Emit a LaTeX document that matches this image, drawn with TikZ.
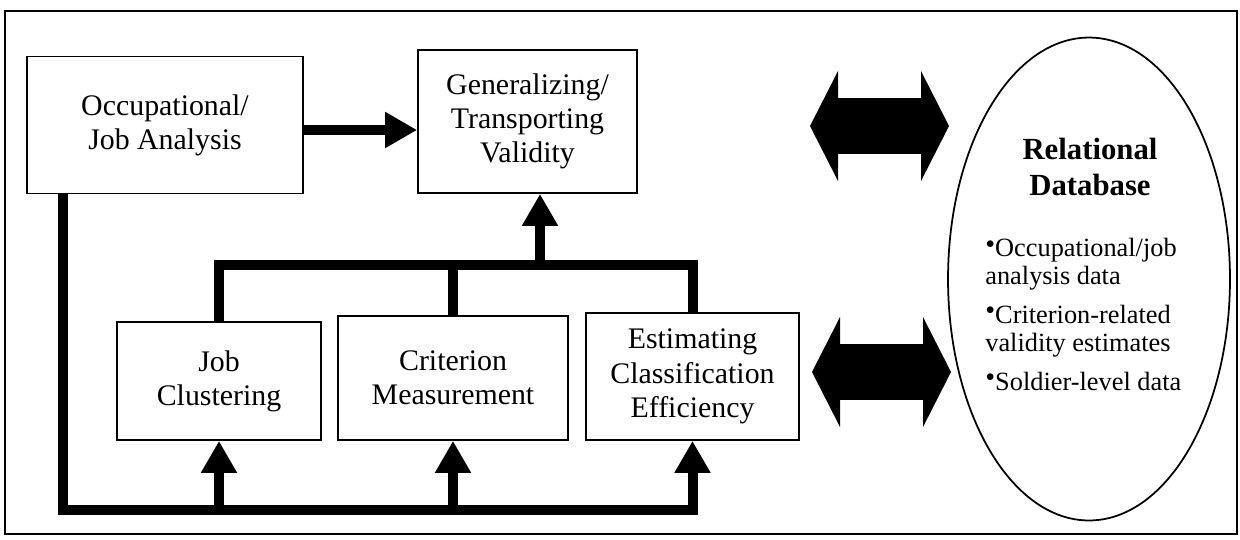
\documentclass[tikz,border=0pt]{standalone}
\usepackage{fontspec}
\setmainfont{Liberation Serif}
\usetikzlibrary{arrows.meta,shapes.geometric}
\newcommand{\dbbullet}{\raisebox{0.3ex}{\fontsize{16}{16}\selectfont •}}

\begin{document}
\begin{tikzpicture}[x=0.02cm, y=-0.02cm,
        box/.style={draw, line width=1pt, align=center, inner sep=2pt,
            font=\fontsize{17}{19.5}\selectfont},
        bar/.style={line width=0.2cm, line join=miter},
        flow/.style={bar, -{Triangle[width=0.68cm,length=0.64cm]}},
        twoway/.style={line width=1.12cm,
            {Triangle[width=2.18cm,length=0.56cm]}-{Triangle[width=2.18cm,length=0.56cm]}}]
    \useasboundingbox (0,0) rectangle (1240,539);
    \draw[line width=1pt] (5,11) rectangle (1237,534);

    \node[box, minimum width=5.52cm, minimum height=2.74cm] at (165,125)   (occ)  {Occupational/\\Job Analysis};
    \node[box, minimum width=4.38cm, minimum height=2.86cm] at (527.5,121.5) (gen) {Generalizing/\\Transporting\\Validity};
    \node[box, minimum width=4.08cm, minimum height=2.36cm] at (219,381)   (job)  {Job\\Clustering};
    \node[box, minimum width=4.60cm, minimum height=2.48cm] at (453,378)   (crit) {Criterion\\Measurement};
    \node[box, minimum width=4.26cm, minimum height=2.54cm] at (692.5,376.5) (est) {Estimating\\Classification\\Efficiency};

    \node[draw, ellipse, line width=1pt, minimum width=5.64cm, minimum height=9.66cm] at (1089,279) (db) {};
    \node[align=center, font=\bfseries\fontsize{17.5}{20}\selectfont] at (1090,167) (dbtitle) {Relational\\Database};
    \node[align=left, anchor=north west, inner sep=0pt, font=\fontsize{15}{16}\selectfont] at (985,238) (dblist)
        {\dbbullet Occupational/job\\analysis data\\[6pt]\dbbullet Criterion-related\\validity estimates\\[6pt]\dbbullet Soldier-level data};

    \coordinate (mid) at (0,130);
    \coordinate (topbar) at (540,265);
    \coordinate (lft) at (63,510);

    % job analysis feeds validity
    \draw[flow] (occ.east |- mid) -- (gen.west |- mid);

    % three studies join and feed validity
    \draw[bar] (job.north) -- (job.north |- topbar) -- (est.north |- topbar) -- (est.north);
    \draw[bar] (crit.north) -- (crit.north |- topbar);
    \draw[flow] (topbar) -- (topbar |- gen.south);

    % job analysis feeds the three studies
    \draw[flow] (occ.south -| lft) -- (lft) -- (est.south |- lft) -- (est.south);
    \draw[flow] (job.south |- lft) -- (job.south);
    \draw[flow] (crit.south |- lft) -- (crit.south);

    % exchange with the database
    \coordinate (tl) at (810,126);
    \coordinate (tr) at (949,126);
    \coordinate (bl) at (812,372);
    \coordinate (br) at (951,372);
    \draw[twoway] (tl) -- (tr);
    \draw[twoway] (bl) -- (br);
\end{tikzpicture}
\end{document}
